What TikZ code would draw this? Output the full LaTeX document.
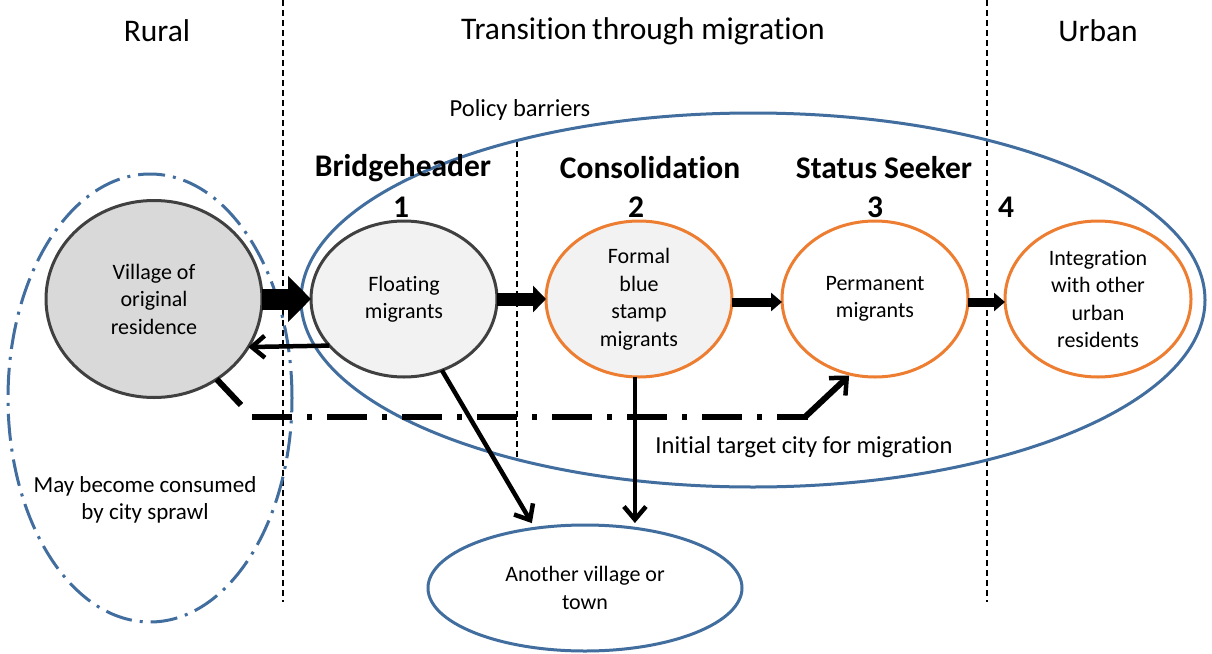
\documentclass[tikz,border=0pt]{standalone}
\usepackage{fontspec}
\setmainfont{Carlito}[Ligatures={NoCommon,NoRare,NoDiscretionary}]
\usetikzlibrary{shapes.geometric,arrows.meta}
\definecolor{pblue}{RGB}{65,110,158}
\definecolor{porange}{RGB}{237,125,49}
\definecolor{pgray}{RGB}{64,64,64}
\definecolor{vfill}{RGB}{217,217,217}
\definecolor{lfill}{RGB}{242,242,242}
\tikzset{
  ntext/.style={font=\fontsize{22}{27.5}\selectfont, align=center},
  stage/.style={ellipse, line width=3pt, inner sep=0pt, outer sep=0pt, ntext},
  greystage/.style={stage, draw=pgray},
  orangestage/.style={stage, draw=porange},
  header/.style={font=\fontsize{31.5}{36}\selectfont},
  phase/.style={font=\fontsize{31.5}{36}\selectfont\bfseries},
  small/.style={font=\fontsize{23}{27}\selectfont, align=center},
  divider/.style={line width=1.3pt, dash pattern=on 6pt off 4pt},
  thinarrow/.style={line width=4.5pt, -{Straight Barb[length=13pt,width=22pt,line width=4.5pt]}},
}
\begin{document}
\begin{tikzpicture}[x=1pt,y=-1pt]
\useasboundingbox (0,0) rectangle (1212,653);
\fill[white] (0,0) rectangle (1212,653);

% dividers
\draw[divider] (283,0) -- (283,602);
\draw[divider] (987,0) -- (987,602);
\draw[divider] (517,141) -- (517,457);

% headers
\node[header] (hrural) at (157,31) {Rural};
\node[header] (htrans) at (643,31) {Transition\,through migration};
\node[header] (hurban) at (1098,31) {Urban};

% big ellipses
\node[ellipse, draw=pblue, line width=3pt, inner sep=0pt, outer sep=0pt,
      minimum width=904pt, minimum height=374pt] (pol) at (753,300) {};
\node[small, font=\fontsize{24.5}{28}\selectfont] (poltxt) at (520,110) {Policy barriers};
\node[ellipse, draw=pblue, line width=3pt, inner sep=0pt, outer sep=0pt,
      dash pattern=on 27pt off 8pt on 3pt off 8pt,
      minimum width=284pt, minimum height=448pt] (spr) at (150,398) {};
\node[small] (sprtxt) at (145,500) {May become consumed\\by city sprawl};

% phase labels
\node[phase] (lb1) at (403,168) {Bridgeheader};
\node[phase] (lb2) at (650,168) {Consolidation};
\node[phase] (lb3) at (884,168) {Status Seeker};
\node[phase] (n1) at (401,207) {1};
\node[phase] (n2) at (636,207) {2};
\node[phase] (n3) at (875,207) {3};
\node[phase] (n4) at (1006,207) {4};

% stage nodes
\node[greystage, fill=vfill, minimum width=216pt, minimum height=197pt] (vil) at (154,299) {Village of\\original\\residence};
\node[greystage, fill=lfill, minimum width=186pt, minimum height=156pt] (flo) at (404,299) {Floating\\migrants};
\node[orangestage, fill=lfill, minimum width=186pt, minimum height=156pt] (frm) at (639,299) {Formal\\blue\\stamp\\migrants};
\node[orangestage, fill=white, minimum width=186pt, minimum height=156pt] (prm) at (875,299) {Permanent\\migrants};
\node[orangestage, fill=white, minimum width=186pt, minimum height=156pt] (int) at (1098,299) {Integration\\with other\\urban\\residents};
\node[stage, draw=pblue, fill=white, minimum width=314pt, minimum height=126pt] (anv) at (585,588) {Another village or\\town};

\node[small, font=\fontsize{24.5}{28}\selectfont] (tgt) at (804,447) {Initial target city for migration};

% forward arrows
\draw[line width=21pt, -{Triangle[length=23pt,width=45pt]}] (vil.east) -- (flo.west);
\draw[line width=13pt, -{Triangle[length=13pt,width=26pt]}] (flo.east) -- (frm.west);
\draw[line width=9pt, -{Triangle[length=11pt,width=18pt]}] ([yshift=-3pt]frm.east) -- ([yshift=-3pt]prm.west);
\draw[line width=9pt, -{Triangle[length=11pt,width=18pt]}] ([yshift=-3pt]prm.east) -- ([yshift=-3pt]int.west);

% return arrow
\draw[thinarrow] (flo.212.4) -- (vil.-27.6);

% arrows to another village
\draw[thinarrow, shorten >=6pt] (flo.-62.5) -- (anv.130);
\draw[thinarrow, shorten >=2pt] (frm.-93) -- (frm.-93 |- anv.north);

% initial target line
\coordinate (c0) at (241,405);
\coordinate (c1) at (252,417);
\coordinate (c2) at (808,417);
\draw[line width=6pt] (vil.-52.5) -- (c0);
\draw[line width=6pt, dash pattern=on 40pt off 15pt on 5pt off 15pt] (c1) -- (c2);
\draw[line width=6pt, line join=miter, -{Straight Barb[length=13pt,width=24pt,line width=4.5pt]}, shorten >=2pt] ([xshift=-3pt]c2) -- (prm.-108);
\end{tikzpicture}
\end{document}
